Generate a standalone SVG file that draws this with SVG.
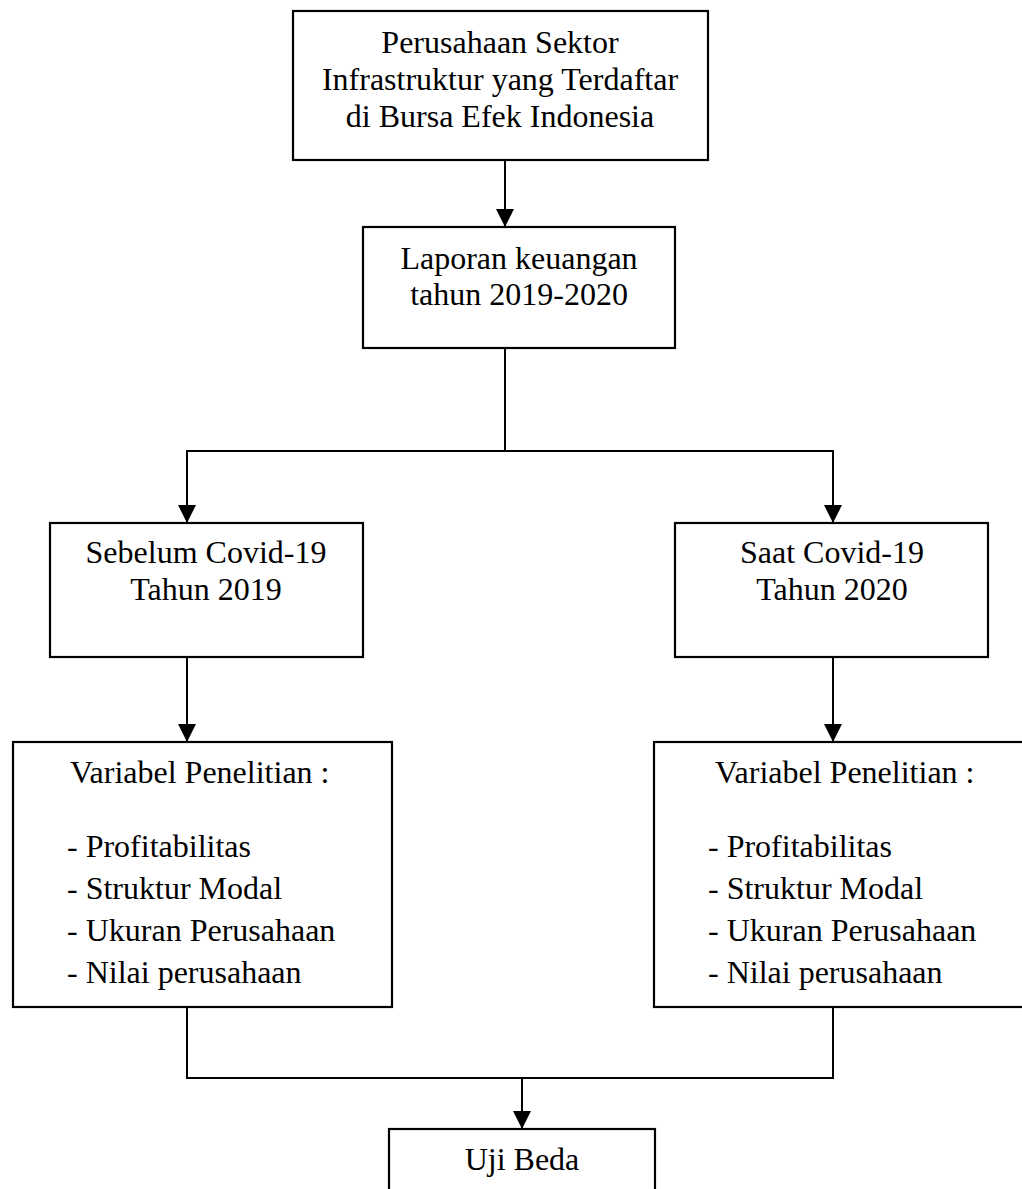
<svg xmlns="http://www.w3.org/2000/svg" width="1022" height="1189" viewBox="0 0 1022 1189">
<style>
.box{fill:#fff;stroke:#000;stroke-width:2.2}
.ln{fill:none;stroke:#000;stroke-width:2}
text{font-family:"Liberation Serif","Times New Roman",serif;font-size:32px;fill:#000}
.c{text-anchor:middle}
</style>
<defs>
<marker id="ah" markerUnits="userSpaceOnUse" markerWidth="18" markerHeight="18" viewBox="0 0 16 16" refX="16" refY="8" orient="auto">
<path d="M0,0 L16,8 L0,16 Z" fill="#000"/>
</marker>
</defs>
<rect width="1022" height="1189" fill="#fff"/>
<g id="connectors">
<line class="ln" x1="505" y1="160" x2="505" y2="227" marker-end="url(#ah)"/>
<polyline class="ln" points="505,348 505,451"/>
<polyline class="ln" points="187,523 187,451 833,451 833,523" marker-end="url(#ah)" marker-start="none"/>
<line class="ln" x1="187" y1="451" x2="187" y2="523" marker-end="url(#ah)"/>
<line class="ln" x1="187" y1="657" x2="187" y2="742" marker-end="url(#ah)"/>
<line class="ln" x1="833" y1="657" x2="833" y2="742" marker-end="url(#ah)"/>
<polyline class="ln" points="187,1007 187,1078 833,1078 833,1007"/>
<line class="ln" x1="522" y1="1078" x2="522" y2="1129" marker-end="url(#ah)"/>
</g>
<g id="node-perusahaan">
<rect class="box" x="293" y="11" width="415" height="149"/>
<text class="c" x="500" y="53">Perusahaan Sektor</text>
<text class="c" x="500" y="90">Infrastruktur yang Terdaftar</text>
<text class="c" x="500" y="127">di Bursa Efek Indonesia</text>
</g>
<g id="node-laporan">
<rect class="box" x="363" y="227" width="312" height="121"/>
<text class="c" x="519" y="269">Laporan keuangan</text>
<text class="c" x="519" y="305">tahun 2019-2020</text>
</g>
<g id="node-sebelum">
<rect class="box" x="50" y="523" width="313" height="134"/>
<text class="c" x="206" y="563">Sebelum Covid-19</text>
<text class="c" x="206" y="600">Tahun 2019</text>
</g>
<g id="node-saat">
<rect class="box" x="675" y="523" width="313" height="134"/>
<text class="c" x="832" y="563">Saat Covid-19</text>
<text class="c" x="832" y="600">Tahun 2020</text>
</g>
<g id="node-variabel-2019">
<rect class="box" x="13" y="742" width="379" height="265"/>
<text x="70" y="783">Variabel Penelitian :</text>
<text x="67" y="857">- Profitabilitas</text>
<text x="67" y="899">- Struktur Modal</text>
<text x="67" y="941">- Ukuran Perusahaan</text>
<text x="67" y="983">- Nilai perusahaan</text>
</g>
<g id="node-variabel-2020">
<rect class="box" x="654" y="742" width="379" height="265"/>
<text x="715" y="783">Variabel Penelitian :</text>
<text x="708" y="857">- Profitabilitas</text>
<text x="708" y="899">- Struktur Modal</text>
<text x="708" y="941">- Ukuran Perusahaan</text>
<text x="708" y="983">- Nilai perusahaan</text>
</g>
<g id="node-uji-beda">
<rect class="box" x="389" y="1129" width="266" height="80"/>
<text class="c" x="522" y="1170">Uji Beda</text>
</g>
</svg>
